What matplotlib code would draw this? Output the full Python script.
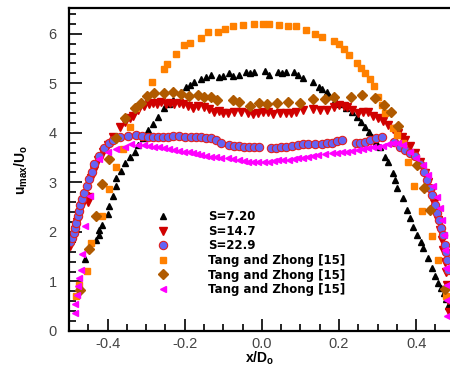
import numpy as np
import matplotlib.pyplot as plt
from matplotlib.ticker import MultipleLocator

plt.rcParams['font.family'] = ['Liberation Sans', 'DejaVu Sans']
plt.rcParams['mathtext.default'] = 'regular'
plt.rcParams['axes.unicode_minus'] = False

# S=7.20
x_s72 = [-0.459, -0.431, -0.423, -0.421, -0.415, -0.400, -0.397, -0.385, -0.379, -0.377,
         -0.366, -0.356, -0.343, -0.330, -0.320, -0.307, -0.294, -0.281, -0.268, -0.253,
         -0.240, -0.230, -0.209, -0.196, -0.186, -0.175, -0.157, -0.145, -0.132, -0.111,
         -0.101, -0.085, -0.075, -0.059, -0.041, -0.031, -0.021, 0.008, 0.018, 0.041,
         0.052, 0.062, 0.083, 0.093, 0.108, 0.132, 0.147, 0.157, 0.170, 0.173,
         0.191, 0.204, 0.219, 0.235, 0.248, 0.258, 0.268, 0.279, 0.286, 0.297,
         0.307, 0.320, 0.328, 0.341, 0.346, 0.351, 0.366, 0.377, 0.385, 0.392,
         0.403, 0.413, 0.418, 0.431, 0.441, 0.449, 0.457, 0.464, 0.472, 0.477, 0.483]
y_s72 = [1.45, 1.83, 1.94, 2.04, 2.14, 2.36, 2.52, 2.72, 2.92, 3.08,
         3.23, 3.39, 3.51, 3.61, 3.75, 3.89, 4.05, 4.17, 4.31, 4.50,
         4.58, 4.66, 4.82, 4.92, 4.96, 5.02, 5.08, 5.12, 5.16, 5.12,
         5.14, 5.20, 5.14, 5.16, 5.22, 5.20, 5.22, 5.24, 5.16, 5.22,
         5.20, 5.22, 5.22, 5.16, 5.10, 5.02, 4.92, 4.88, 4.82, 4.74,
         4.66, 4.58, 4.50, 4.42, 4.31, 4.21, 4.11, 4.01, 3.91, 3.81,
         3.71, 3.51, 3.41, 3.19, 3.04, 2.88, 2.68, 2.44, 2.28, 2.10,
         1.94, 1.79, 1.67, 1.47, 1.27, 1.11, 0.97, 0.87, 0.77, 0.65, 0.50]

# S=14.7
x_s147 = [-0.498, -0.490, -0.485, -0.480, -0.475, -0.467, -0.459, -0.452, -0.449, -0.444,
          -0.436, -0.426, -0.413, -0.400, -0.385, -0.369, -0.354, -0.343, -0.333, -0.320,
          -0.305, -0.292, -0.281, -0.271, -0.261, -0.248, -0.237, -0.227, -0.214, -0.204,
          -0.191, -0.178, -0.165, -0.150, -0.137, -0.124, -0.111, -0.101, -0.088, -0.072,
          -0.054, -0.036, -0.023, -0.010, 0.003, 0.015, 0.028, 0.046, 0.062, 0.075,
          0.088, 0.108, 0.132, 0.152, 0.170, 0.186, 0.199, 0.212, 0.222, 0.235,
          0.250, 0.263, 0.276, 0.289, 0.302, 0.315, 0.328, 0.341, 0.354, 0.364,
          0.372, 0.385, 0.397, 0.410, 0.423, 0.431, 0.439, 0.446, 0.452, 0.457,
          0.462, 0.467, 0.470, 0.475, 0.477, 0.480, 0.483, 0.485]
y_s147 = [1.71, 1.88, 2.04, 2.20, 2.36, 2.54, 2.72, 2.60, 2.70, 3.08,
          3.25, 3.45, 3.61, 3.75, 3.91, 4.11, 4.21, 4.29, 4.35, 4.46,
          4.54, 4.58, 4.60, 4.58, 4.62, 4.58, 4.60, 4.58, 4.60, 4.58,
          4.54, 4.50, 4.54, 4.52, 4.48, 4.42, 4.44, 4.40, 4.40, 4.42,
          4.42, 4.40, 4.38, 4.40, 4.42, 4.42, 4.38, 4.40, 4.40, 4.40,
          4.42, 4.46, 4.48, 4.46, 4.46, 4.52, 4.56, 4.54, 4.52, 4.46,
          4.40, 4.42, 4.42, 4.35, 4.29, 4.23, 4.15, 4.07, 3.99, 3.91,
          3.85, 3.73, 3.59, 3.41, 3.19, 3.00, 2.80, 2.58, 2.40, 2.24,
          2.04, 1.83, 1.63, 1.39, 1.19, 0.93, 0.63, 0.38]

# S=22.9
x_s229 = [-0.498, -0.493, -0.488, -0.485, -0.483, -0.477, -0.475, -0.472, -0.467, -0.462,
          -0.454, -0.449, -0.441, -0.434, -0.423, -0.410, -0.397, -0.385, -0.369, -0.348,
          -0.325, -0.310, -0.294, -0.281, -0.268, -0.255, -0.243, -0.230, -0.214, -0.199,
          -0.183, -0.170, -0.157, -0.145, -0.132, -0.119, -0.106, -0.085, -0.072, -0.059,
          -0.046, -0.034, -0.021, -0.008, 0.023, 0.036, 0.049, 0.062, 0.077, 0.093,
          0.108, 0.121, 0.139, 0.157, 0.170, 0.183, 0.196, 0.209, 0.243, 0.255,
          0.268, 0.281, 0.297, 0.312, 0.343, 0.359, 0.372, 0.385, 0.397, 0.410,
          0.421, 0.428, 0.436, 0.441, 0.449, 0.454, 0.459, 0.464, 0.470, 0.475,
          0.477, 0.480, 0.483]
y_s229 = [1.79, 1.88, 1.98, 2.08, 2.18, 2.32, 2.42, 2.54, 2.66, 2.78,
          2.92, 3.06, 3.21, 3.37, 3.53, 3.69, 3.79, 3.85, 3.91, 3.93,
          3.95, 3.93, 3.91, 3.91, 3.91, 3.91, 3.91, 3.93, 3.93, 3.91,
          3.91, 3.91, 3.91, 3.89, 3.89, 3.85, 3.79, 3.75, 3.73, 3.73,
          3.71, 3.71, 3.71, 3.71, 3.69, 3.69, 3.71, 3.71, 3.73, 3.75,
          3.77, 3.77, 3.77, 3.77, 3.79, 3.79, 3.83, 3.85, 3.79, 3.79,
          3.81, 3.85, 3.89, 3.91, 3.81, 3.71, 3.65, 3.59, 3.53, 3.37,
          3.21, 3.04, 2.88, 2.74, 2.54, 2.38, 2.24, 2.08, 1.94, 1.73,
          1.59, 1.43, 1.23]

# Tang and Zhong [15] (squares)
x_tz1 = [-0.483, -0.475, -0.454, -0.444, -0.415, -0.395, -0.379, -0.361, -0.341, -0.325,
         -0.284, -0.253, -0.245, -0.222, -0.201, -0.186, -0.157, -0.139, -0.114, -0.095,
         -0.075, -0.049, -0.021, 0.003, 0.018, 0.044, 0.067, 0.088, 0.114, 0.137,
         0.157, 0.188, 0.199, 0.212, 0.227, 0.248, 0.258, 0.268, 0.281, 0.292,
         0.302, 0.312, 0.320, 0.341, 0.351, 0.366, 0.379, 0.395, 0.415, 0.441,
         0.457, 0.477]
y_tz1 = [0.71, 0.93, 1.21, 1.77, 2.32, 2.86, 3.31, 3.67, 4.11, 4.50,
         5.02, 5.28, 5.38, 5.60, 5.77, 5.81, 5.91, 6.03, 6.03, 6.09,
         6.15, 6.17, 6.19, 6.19, 6.19, 6.17, 6.15, 6.15, 6.07, 5.99,
         5.93, 5.85, 5.79, 5.69, 5.58, 5.40, 5.30, 5.20, 5.08, 4.94,
         4.72, 4.56, 4.40, 4.09, 3.95, 3.79, 3.41, 2.92, 2.42, 1.92,
         1.43, 0.71]

# Tang and Zhong [15] (diamonds)
x_tz2 = [-0.472, -0.449, -0.431, -0.415, -0.397, -0.377, -0.354, -0.328, -0.312, -0.297,
         -0.279, -0.253, -0.230, -0.209, -0.188, -0.165, -0.150, -0.132, -0.116, -0.075,
         -0.059, -0.031, -0.008, 0.013, 0.039, 0.067, 0.098, 0.134, 0.163, 0.186,
         0.230, 0.261, 0.294, 0.317, 0.335, 0.354, 0.403, 0.421, 0.436, 0.475]
y_tz2 = [0.83, 1.65, 2.32, 2.96, 3.47, 3.89, 4.29, 4.50, 4.60, 4.74,
         4.80, 4.80, 4.82, 4.78, 4.74, 4.76, 4.72, 4.72, 4.66, 4.66,
         4.62, 4.54, 4.60, 4.58, 4.60, 4.62, 4.60, 4.68, 4.68, 4.72,
         4.72, 4.76, 4.70, 4.56, 4.42, 4.13, 3.35, 2.88, 2.44, 0.85]

# Tang and Zhong [15] (left triangles)
x_tz3 = [-0.485, -0.485, -0.480, -0.477, -0.475, -0.470, -0.467, -0.459, -0.446, -0.423,
         -0.400, -0.377, -0.356, -0.338, -0.320, -0.305, -0.292, -0.279, -0.266, -0.253,
         -0.240, -0.227, -0.214, -0.201, -0.188, -0.178, -0.168, -0.157, -0.145, -0.132,
         -0.119, -0.106, -0.088, -0.075, -0.059, -0.046, -0.036, -0.023, -0.010, 0.005,
         0.018, 0.031, 0.041, 0.054, 0.070, 0.083, 0.095, 0.108, 0.121, 0.134,
         0.145, 0.165, 0.181, 0.196, 0.209, 0.222, 0.235, 0.250, 0.263, 0.276,
         0.289, 0.302, 0.315, 0.328, 0.341, 0.354, 0.366, 0.385, 0.400, 0.418,
         0.431, 0.444, 0.454, 0.462, 0.467, 0.472, 0.475, 0.477, 0.480, 0.480, 0.480]
y_tz3 = [0.36, 0.54, 0.73, 0.91, 1.07, 1.23, 1.55, 2.12, 2.72, 3.47,
         3.61, 3.67, 3.71, 3.77, 3.75, 3.75, 3.73, 3.71, 3.71, 3.69,
         3.67, 3.65, 3.63, 3.61, 3.61, 3.59, 3.57, 3.55, 3.53, 3.51,
         3.51, 3.49, 3.49, 3.47, 3.45, 3.43, 3.41, 3.41, 3.41, 3.41,
         3.41, 3.43, 3.45, 3.45, 3.45, 3.47, 3.49, 3.49, 3.51, 3.53,
         3.55, 3.57, 3.59, 3.59, 3.61, 3.61, 3.63, 3.65, 3.67, 3.69,
         3.71, 3.71, 3.73, 3.77, 3.79, 3.79, 3.75, 3.61, 3.49, 3.35,
         3.15, 2.92, 2.70, 2.48, 2.24, 1.94, 1.63, 1.27, 0.93, 0.63, 0.30]

fig = plt.figure(figsize=(4.5, 3.66), dpi=100)
ax = fig.add_axes([69 / 450, 35 / 366, 381 / 450, 323 / 366])

ax.plot(x_s72, y_s72, '^', color='black', ms=5, mec='black', label='S=7.20')
ax.plot(x_s147, y_s147, 'v', color='#d00000', ms=5.5, mec='#d00000', label='S=14.7')
ax.plot(x_s229, y_s229, 'o', color='#6464f5', ms=6, mec='#e02020', mew=0.8, label='S=22.9')
ax.plot(x_tz1, y_tz1, 's', color='#ff8000', ms=4.5, mec='#ff8000', label='Tang and Zhong [15]')
ax.plot(x_tz2, y_tz2, 'D', color='#b05a00', ms=5, mec='#b05a00', label='Tang and Zhong [15]')
ax.plot(x_tz3, y_tz3, '<', color='#ff00ff', ms=5, mec='#ff00ff', label='Tang and Zhong [15]')

ax.set_xlim(-0.5, 0.488)
ax.set_ylim(0, 6.52)
ax.xaxis.set_major_locator(MultipleLocator(0.2))
ax.xaxis.set_minor_locator(MultipleLocator(0.05))
ax.yaxis.set_major_locator(MultipleLocator(1))
ax.yaxis.set_minor_locator(MultipleLocator(0.2))
ax.tick_params(which='both', direction='in', top=False, right=False, width=1.2,
               labelsize=10.5, labelcolor='#444444')
ax.tick_params(which='major', length=9)
ax.tick_params(which='minor', length=5)
ax.tick_params(axis='y', pad=9)
ax.tick_params(axis='x', pad=4)
for s in ['left', 'bottom', 'top']:
    ax.spines[s].set_linewidth(1.6)
ax.spines['right'].set_visible(False)

ax.set_xlabel('x/D$_o$', fontweight='bold', fontsize=10, labelpad=-1)
ax.set_ylabel('u$_{max}$/U$_o$', fontweight='bold', fontsize=10, labelpad=13)

leg = ax.legend(loc='upper left', bbox_to_anchor=(0.219, 0.388), frameon=False,
                numpoints=1, handlelength=1.0, handletextpad=3.3, labelspacing=0.13,
                borderaxespad=0,
                prop={'family': 'DejaVu Sans', 'weight': 'bold', 'size': 8.5})

fig.savefig('out.png', dpi=100)
